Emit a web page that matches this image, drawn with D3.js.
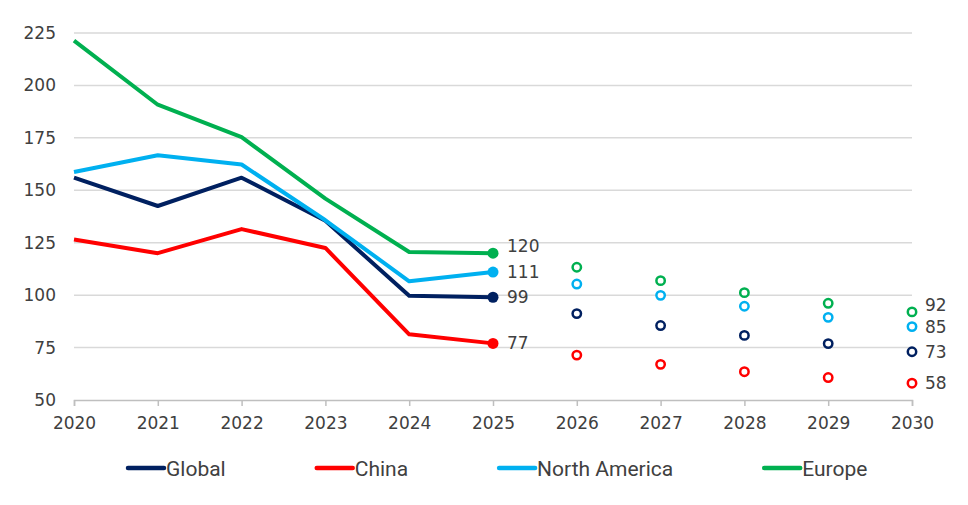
<!DOCTYPE html>
<html>
<head>
    <meta charset="UTF-8">
    <title>Forecast by region</title>
    <script src="https://d3js.org/d3.v7.min.js"></script>
    <style>
        body { margin: 0; background: #fff; }
        svg { font-family: "DejaVu Sans", sans-serif; }
        .tick text { fill: #404040; font-size: 17px; font-family: "DejaVu Sans", sans-serif; }
        .legend text { font-family: Roboto, sans-serif; font-size: 21px; fill: #404040; }
    </style>
</head>
<body>
    <svg></svg>
    <script>
        // data
        const years = [2020, 2021, 2022, 2023, 2024, 2025, 2026, 2027, 2028, 2029, 2030];
        const actualYears = [2020, 2021, 2022, 2023, 2024, 2025];
        const forecastYears = [2026, 2027, 2028, 2029, 2030];
        const yTicks = [50, 75, 100, 125, 150, 175, 200, 225];

        const seriesNames = ['Global', 'China', 'North America', 'Europe'];
        const globalActual = [156, 142.5, 156, 135.5, 99.7, 99];
        const chinaActual = [126.5, 120, 131.5, 122.5, 81.3, 77];
        const naActual = [158.7, 166.7, 162.3, 135.7, 106.6, 111];
        const europeActual = [221.4, 190.8, 175.3, 146, 120.6, 120];

        const globalForecast = [91.2, 85.5, 80.8, 76.9, 73];
        const chinaForecast = [71.4, 67, 63.5, 60.7, 58];
        const naForecast = [105.3, 99.9, 94.7, 89.4, 85];
        const europeForecast = [113.3, 106.9, 101.2, 96.1, 92];

        const colors = ['#002060', '#ff0000', '#00b0f0', '#00b050'];

        const series = seriesNames.map((name, i) => ({
            name: name,
            color: colors[i],
            actual: [globalActual, chinaActual, naActual, europeActual][i],
            forecast: [globalForecast, chinaForecast, naForecast, europeForecast][i]
        }));

        const width = 968, height = 505;
        const svg = d3.select('svg')
            .attr('width', width)
            .attr('height', height);

        const x = d3.scaleLinear()
            .domain([2020, 2030])
            .range([74, 912]);

        const y = d3.scaleLinear()
            .domain([50, 225])
            .range([400, 33]);

        // gridlines
        svg.append('g')
            .selectAll('line')
            .data(yTicks.filter(d => d > 50))
            .enter().append('line')
            .attr('x1', x(2020))
            .attr('x2', x(2030))
            .attr('y1', d => y(d))
            .attr('y2', d => y(d))
            .attr('stroke', '#d9d9d9')
            .attr('stroke-width', 1.5);

        // x axis
        const xAxis = svg.append('g')
            .attr('transform', `translate(0,${y(50)})`)
            .call(d3.axisBottom(x).tickValues(years).tickFormat(d3.format('d'))
                .tickSize(6).tickPadding(11));
        xAxis.select('.domain').attr('stroke', '#bfbfbf').attr('stroke-width', 1.5);
        xAxis.selectAll('.tick line').attr('stroke', '#bfbfbf').attr('stroke-width', 1.5);

        // y axis
        const yAxis = svg.append('g')
            .attr('transform', `translate(${x(2020)},0)`)
            .call(d3.axisLeft(y).tickValues(yTicks).tickSize(0).tickPadding(18));
        yAxis.select('.domain').remove();

        // lines
        const line = d3.line()
            .x((d, i) => x(actualYears[i]))
            .y(d => y(d));

        svg.append('g')
            .selectAll('path')
            .data(series)
            .enter().append('path')
            .attr('d', d => line(d.actual))
            .attr('fill', 'none')
            .attr('stroke', d => d.color)
            .attr('stroke-width', 4)
            .attr('stroke-linejoin', 'round');

        // last actual point
        svg.append('g')
            .selectAll('circle')
            .data(series)
            .enter().append('circle')
            .attr('cx', x(2025))
            .attr('cy', d => y(d.actual[d.actual.length - 1]))
            .attr('r', 5.5)
            .attr('fill', d => d.color);

        // forecast points
        series.forEach(s => {
            svg.append('g')
                .selectAll('circle')
                .data(s.forecast)
                .enter().append('circle')
                .attr('cx', (d, i) => x(forecastYears[i]))
                .attr('cy', d => y(d))
                .attr('r', 4.2)
                .attr('fill', '#fff')
                .attr('stroke', s.color)
                .attr('stroke-width', 2.5);
        });

        // value labels
        const fmt = d3.format('d');
        series.forEach(s => {
            const nudge = s.name === 'Europe' ? -7 : 0;
            const last = s.actual[s.actual.length - 1];
            const end = s.forecast[s.forecast.length - 1];
            svg.append('text')
                .attr('x', x(2025) + 14)
                .attr('y', y(last) + nudge)
                .attr('dy', '0.36em')
                .attr('font-size', '17px')
                .attr('fill', '#404040')
                .text(fmt(last));
            svg.append('text')
                .attr('x', x(2030) + 13)
                .attr('y', y(end) + nudge)
                .attr('dy', '0.36em')
                .attr('font-size', '17px')
                .attr('fill', '#404040')
                .text(fmt(end));
        });

        // legend
        const legend = svg.append('g').attr('class', 'legend');
        let lx = 128;
        series.forEach(s => {
            legend.append('line')
                .attr('x1', lx)
                .attr('x2', lx + 36)
                .attr('y1', 468)
                .attr('y2', 468)
                .attr('stroke', s.color)
                .attr('stroke-width', 4.5)
                .attr('stroke-linecap', 'round');
            const t = legend.append('text')
                .attr('x', lx + 38)
                .attr('y', 476)
                .text(s.name);
            lx += 38 + t.node().getComputedTextLength() + 91;
        });
    </script>
</body>
</html>
